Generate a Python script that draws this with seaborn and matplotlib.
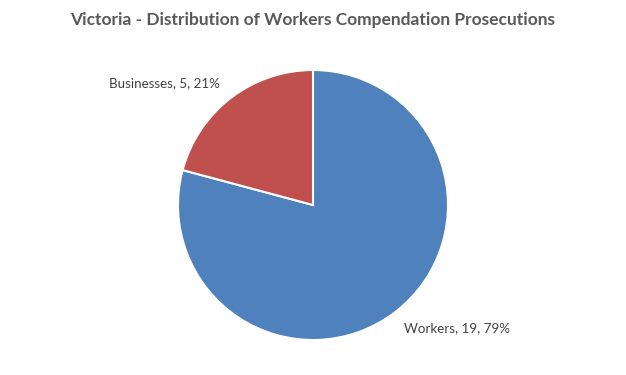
import matplotlib
matplotlib.use("Agg")
import matplotlib.pyplot as plt
import seaborn as sns

categories = ["Workers", "Businesses"]
values = [19, 5]
colors = ["#4F81BD", "#C0504D"]
title = "Victoria - Distribution of Workers Compendation Prosecutions"

sns.set_theme(style="white")
plt.rcParams["font.family"] = ["Lato", "DejaVu Sans"]

fig = plt.figure(figsize=(6.26, 3.75), dpi=100)
cx, cy, r = 313, 205, 135
W, H = 626, 375
ax = fig.add_axes([(cx - r) / W, (H - cy - r) / H, 2 * r / W, 2 * r / H])
ax.pie(values, colors=colors, startangle=90, counterclock=False,
       wedgeprops=dict(edgecolor="white", linewidth=1.5))
ax.set_xlim(-1, 1)
ax.set_ylim(-1, 1)
ax.set_aspect("equal")
ax.axis("off")

total = sum(values)
labels = [f"{c}, {v}, {round(100 * v / total)}%" for c, v in zip(categories, values)]
positions = [(1.07, -0.91), (-1.10, 0.90)]
for lab, (x, y) in zip(labels, positions):
    ax.text(x, y, lab, ha="center", va="center", fontsize=9.6, color="#404040")

fig.text(313 / W, 1 - 20 / H, title, ha="center", va="center",
         fontsize=12.5, fontweight="bold", color="#595959")

fig.savefig("out.png", dpi=100)
